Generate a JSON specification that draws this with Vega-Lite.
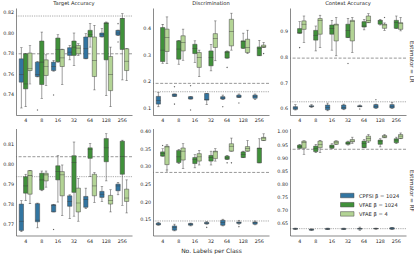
{
"$schema": "https://vega.github.io/schema/vega-lite/v6.json",
"padding": {"left": 2, "top": 1, "right": 0, "bottom": 0},
"background": "white",
"config": {
 "view": {"stroke": null},
 "font": "DejaVu Sans",
 "axis": {"grid": false, "ticks": false, "domainColor": "#3a3a3a", "domainWidth": 0.6, "labelFont": "DejaVu Sans", "labelFontSize": 4.8, "labelColor": "#262626", "labelPadding": 2.5, "labelOverlap": false, "labelBound": false, "labelFlush": false, "titleFont": "DejaVu Sans", "titleFontSize": 6, "titleFontWeight": "normal", "titleColor": "#262626"},
 "axisX": {"labelAngle": 0, "titlePadding": 4.5},
 "title": {"font": "DejaVu Sans", "fontSize": 5.2, "fontWeight": "normal", "color": "#262626", "offset": 1.5},
 "scale": {"bandPaddingInner": 0.15, "bandPaddingOuter": 0.075, "offsetBandPaddingInner": 0, "offsetBandPaddingOuter": 0},
 "rule": {"color": "#5a5a5a", "strokeWidth": 0.6},
 "tick": {"color": "#3c3c3c", "thickness": 0.6},
 "bar": {"stroke": "#444444", "strokeWidth": 0.5},
 "point": {"shape": "diamond", "filled": true, "size": 2.5, "color": "#555555", "opacity": 1},
 "legend": {"orient": "none", "legendX": 326.25, "legendY": 182.5, "symbolType": "M-1.5,-0.5H1.5V0.5H-1.5Z", "symbolSize": 81, "symbolStrokeColor": "#444444", "symbolStrokeWidth": 0.5, "labelFont": "DejaVu Sans", "labelFontSize": 5.2, "labelColor": "#262626", "labelOffset": 6.75, "rowPadding": 0.2, "padding": 0}
},
"datasets": {
 "bLRT": [
  {"n":4,"s":"CPFSI β = 1024","lo":0.7273,"q1":0.7524,"med":0.7598,"q3":0.7751,"hi":0.7859},
  {"n":4,"s":"VFAE β = 1024","lo":0.7286,"q1":0.7459,"med":0.7507,"q3":0.78,"hi":0.7805},
  {"n":4,"s":"VFAE β = 4","lo":0.7507,"q1":0.7637,"med":0.7654,"q3":0.7807,"hi":0.7881},
  {"n":8,"s":"CPFSI β = 1024","lo":0.7575,"q1":0.7579,"med":0.7598,"q3":0.7719,"hi":0.7725},
  {"n":8,"s":"VFAE β = 1024","lo":0.7367,"q1":0.7501,"med":0.7719,"q3":0.7924,"hi":0.8011},
  {"n":8,"s":"VFAE β = 4","lo":0.7491,"q1":0.7589,"med":0.7676,"q3":0.7741,"hi":0.779},
  {"n":16,"s":"CPFSI β = 1024","lo":0.7631,"q1":0.7637,"med":0.7676,"q3":0.7719,"hi":0.7735},
  {"n":16,"s":"VFAE β = 1024","lo":0.7719,"q1":0.7722,"med":0.7842,"q3":0.7953,"hi":0.7985},
  {"n":16,"s":"VFAE β = 4","lo":0.7501,"q1":0.7676,"med":0.776,"q3":0.7842,"hi":0.7845},
  {"n":32,"s":"CPFSI β = 1024","lo":0.7741,"q1":0.7784,"med":0.7816,"q3":0.7859,"hi":0.7881},
  {"n":32,"s":"VFAE β = 1024","lo":0.7686,"q1":0.7784,"med":0.7865,"q3":0.7924,"hi":0.8002},
  {"n":32,"s":"VFAE β = 4","lo":0.7784,"q1":0.78,"med":0.7855,"q3":0.7881,"hi":0.7898},
  {"n":64,"s":"CPFSI β = 1024","lo":0.7751,"q1":0.7753,"med":0.7849,"q3":0.7963,"hi":0.7995},
  {"n":64,"s":"VFAE β = 1024","lo":0.7865,"q1":0.7963,"med":0.7985,"q3":0.8028,"hi":0.8093},
  {"n":64,"s":"VFAE β = 4","lo":0.7449,"q1":0.7579,"med":0.7735,"q3":0.7963,"hi":0.8076},
  {"n":128,"s":"CPFSI β = 1024","lo":0.7963,"q1":0.7965,"med":0.7985,"q3":0.8002,"hi":0.8044},
  {"n":128,"s":"VFAE β = 1024","lo":0.7393,"q1":0.7741,"med":0.8093,"q3":0.8102,"hi":0.8109},
  {"n":128,"s":"VFAE β = 4","lo":0.7286,"q1":0.7442,"med":0.7598,"q3":0.7774,"hi":0.7865},
  {"n":256,"s":"CPFSI β = 1024","lo":0.7979,"q1":0.7981,"med":0.8002,"q3":0.8028,"hi":0.803},
  {"n":256,"s":"VFAE β = 1024","lo":0.7546,"q1":0.7842,"med":0.8141,"q3":0.8143,"hi":0.819},
  {"n":256,"s":"VFAE β = 4","lo":0.754,"q1":0.7637,"med":0.7728,"q3":0.7849,"hi":0.7851}
 ],
 "oLRT": [
  {"n":8,"s":"CPFSI β = 1024","v":0.7254},
  {"n":16,"s":"CPFSI β = 1024","v":0.74},
  {"n":256,"s":"CPFSI β = 1024","v":0.7914},
  {"n":256,"s":"CPFSI β = 1024","v":0.8093}
 ],
 "rLRT": [{"v":0.8167,"ls":"dotted"},{"v":0.78,"ls":"dashed"}],
 "bLRD": [
  {"n":4,"s":"CPFSI β = 1024","lo":0.106,"q1":0.116,"med":0.129,"q3":0.145,"hi":0.16},
  {"n":4,"s":"VFAE β = 1024","lo":0.269,"q1":0.276,"med":0.319,"q3":0.404,"hi":0.416},
  {"n":4,"s":"VFAE β = 4","lo":0.269,"q1":0.314,"med":0.366,"q3":0.398,"hi":0.444},
  {"n":8,"s":"CPFSI β = 1024","lo":0.145,"q1":0.145,"med":0.15,"q3":0.154,"hi":0.154},
  {"n":8,"s":"VFAE β = 1024","lo":0.266,"q1":0.285,"med":0.323,"q3":0.354,"hi":0.356},
  {"n":8,"s":"VFAE β = 4","lo":0.281,"q1":0.316,"med":0.348,"q3":0.373,"hi":0.398},
  {"n":16,"s":"CPFSI β = 1024","lo":0.135,"q1":0.135,"med":0.139,"q3":0.144,"hi":0.144},
  {"n":16,"s":"VFAE β = 1024","lo":0.273,"q1":0.306,"med":0.325,"q3":0.341,"hi":0.354},
  {"n":16,"s":"VFAE β = 4","lo":0.219,"q1":0.254,"med":0.291,"q3":0.31,"hi":0.319},
  {"n":32,"s":"CPFSI β = 1024","lo":0.114,"q1":0.131,"med":0.133,"q3":0.156,"hi":0.156},
  {"n":32,"s":"VFAE β = 1024","lo":0.241,"q1":0.26,"med":0.291,"q3":0.316,"hi":0.341},
  {"n":32,"s":"VFAE β = 4","lo":0.279,"q1":0.329,"med":0.363,"q3":0.381,"hi":0.429},
  {"n":64,"s":"CPFSI β = 1024","lo":0.133,"q1":0.135,"med":0.139,"q3":0.144,"hi":0.15},
  {"n":64,"s":"VFAE β = 1024","lo":0.289,"q1":0.289,"med":0.31,"q3":0.314,"hi":0.316},
  {"n":64,"s":"VFAE β = 4","lo":0.319,"q1":0.335,"med":0.389,"q3":0.435,"hi":0.458},
  {"n":128,"s":"CPFSI β = 1024","lo":0.141,"q1":0.141,"med":0.145,"q3":0.15,"hi":0.154},
  {"n":128,"s":"VFAE β = 1024","lo":0.326,"q1":0.326,"med":0.351,"q3":0.354,"hi":0.383},
  {"n":128,"s":"VFAE β = 4","lo":0.306,"q1":0.31,"med":0.329,"q3":0.36,"hi":0.394},
  {"n":256,"s":"CPFSI β = 1024","lo":0.133,"q1":0.138,"med":0.144,"q3":0.15,"hi":0.154},
  {"n":256,"s":"VFAE β = 1024","lo":0.298,"q1":0.298,"med":0.325,"q3":0.331,"hi":0.356},
  {"n":256,"s":"VFAE β = 4","lo":0.329,"q1":0.329,"med":0.333,"q3":0.338,"hi":0.348}
 ],
 "oLRD": [
  {"n":8,"s":"CPFSI β = 1024","v":0.181},
  {"n":8,"s":"CPFSI β = 1024","v":0.116},
  {"n":16,"s":"CPFSI β = 1024","v":0.185},
  {"n":16,"s":"CPFSI β = 1024","v":0.094},
  {"n":64,"s":"CPFSI β = 1024","v":0.106},
  {"n":128,"s":"CPFSI β = 1024","v":0.12},
  {"n":64,"s":"VFAE β = 1024","v":0.254},
  {"n":256,"s":"VFAE β = 4","v":0.306}
 ],
 "rLRD": [{"v":0.194,"ls":"dashed"},{"v":0.1625,"ls":"dotted"}],
 "bLRC": [
  {"n":4,"s":"CPFSI β = 1024","lo":0.596,"q1":0.5986,"med":0.6038,"q3":0.609,"hi":0.6167},
  {"n":4,"s":"VFAE β = 1024","lo":0.895,"q1":0.895,"med":0.896,"q3":0.913,"hi":0.94},
  {"n":4,"s":"VFAE β = 4","lo":0.859,"q1":0.91,"med":0.93,"q3":0.943,"hi":0.962},
  {"n":8,"s":"CPFSI β = 1024","lo":0.606,"q1":0.609,"med":0.61,"q3":0.6127,"hi":0.6167},
  {"n":8,"s":"VFAE β = 1024","lo":0.826,"q1":0.868,"med":0.887,"q3":0.906,"hi":0.923},
  {"n":8,"s":"VFAE β = 4","lo":0.839,"q1":0.891,"med":0.945,"q3":0.952,"hi":0.965},
  {"n":16,"s":"CPFSI β = 1024","lo":0.593,"q1":0.597,"med":0.606,"q3":0.6154,"hi":0.623},
  {"n":16,"s":"VFAE β = 1024","lo":0.829,"q1":0.891,"med":0.913,"q3":0.927,"hi":0.945},
  {"n":16,"s":"VFAE β = 4","lo":0.807,"q1":0.865,"med":0.927,"q3":0.93,"hi":0.956},
  {"n":32,"s":"CPFSI β = 1024","lo":0.597,"q1":0.6,"med":0.606,"q3":0.6154,"hi":0.619},
  {"n":32,"s":"VFAE β = 1024","lo":0.878,"q1":0.878,"med":0.906,"q3":0.93,"hi":0.953},
  {"n":32,"s":"VFAE β = 4","lo":0.82,"q1":0.865,"med":0.94,"q3":0.945,"hi":0.956},
  {"n":64,"s":"CPFSI β = 1024","lo":0.609,"q1":0.609,"med":0.61,"q3":0.6127,"hi":0.6154},
  {"n":64,"s":"VFAE β = 1024","lo":0.908,"q1":0.919,"med":0.923,"q3":0.94,"hi":0.949},
  {"n":64,"s":"VFAE β = 4","lo":0.936,"q1":0.936,"med":0.945,"q3":0.962,"hi":0.971},
  {"n":128,"s":"CPFSI β = 1024","lo":0.602,"q1":0.604,"med":0.609,"q3":0.617,"hi":0.619},
  {"n":128,"s":"VFAE β = 1024","lo":0.927,"q1":0.93,"med":0.943,"q3":0.945,"hi":0.949},
  {"n":128,"s":"VFAE β = 4","lo":0.906,"q1":0.914,"med":0.927,"q3":0.93,"hi":0.935},
  {"n":256,"s":"CPFSI β = 1024","lo":0.602,"q1":0.604,"med":0.609,"q3":0.617,"hi":0.626},
  {"n":256,"s":"VFAE β = 1024","lo":0.913,"q1":0.914,"med":0.936,"q3":0.945,"hi":0.962},
  {"n":256,"s":"VFAE β = 4","lo":0.904,"q1":0.91,"med":0.932,"q3":0.936,"hi":0.956}
 ],
 "oLRC": [
  {"n":4,"s":"VFAE β = 1024","v":0.839},
  {"n":32,"s":"VFAE β = 1024","v":0.777},
  {"n":64,"s":"CPFSI β = 1024","v":0.6},
  {"n":128,"s":"CPFSI β = 1024","v":0.636},
  {"n":128,"s":"VFAE β = 4","v":0.956}
 ],
 "rLRC": [{"v":0.798,"ls":"dashed"},{"v":0.628,"ls":"dotted"}],
 "bRFT": [
  {"n":4,"s":"CPFSI β = 1024","lo":0.7666,"q1":0.7672,"med":0.7718,"q3":0.7803,"hi":0.782},
  {"n":4,"s":"VFAE β = 1024","lo":0.782,"q1":0.7857,"med":0.7893,"q3":0.7939,"hi":0.7951},
  {"n":4,"s":"VFAE β = 4","lo":0.7805,"q1":0.7852,"med":0.7944,"q3":0.7969,"hi":0.7971},
  {"n":8,"s":"CPFSI β = 1024","lo":0.7685,"q1":0.7715,"med":0.7723,"q3":0.7805,"hi":0.7808},
  {"n":8,"s":"VFAE β = 1024","lo":0.7869,"q1":0.7874,"med":0.7923,"q3":0.7956,"hi":0.7967},
  {"n":8,"s":"VFAE β = 4","lo":0.7887,"q1":0.7918,"med":0.7948,"q3":0.7956,"hi":0.7967},
  {"n":16,"s":"CPFSI β = 1024","lo":0.7764,"q1":0.7764,"med":0.7797,"q3":0.78,"hi":0.7802},
  {"n":16,"s":"VFAE β = 1024","lo":0.7813,"q1":0.7923,"med":0.7964,"q3":0.7993,"hi":0.8043},
  {"n":16,"s":"VFAE β = 4","lo":0.7746,"q1":0.7844,"med":0.7948,"q3":0.7964,"hi":0.7997},
  {"n":32,"s":"CPFSI β = 1024","lo":0.7731,"q1":0.7792,"med":0.7816,"q3":0.7844,"hi":0.7849},
  {"n":32,"s":"VFAE β = 1024","lo":0.7743,"q1":0.7861,"med":0.801,"q3":0.8043,"hi":0.8111},
  {"n":32,"s":"VFAE β = 4","lo":0.7718,"q1":0.7764,"med":0.7808,"q3":0.7882,"hi":0.7931},
  {"n":64,"s":"CPFSI β = 1024","lo":0.778,"q1":0.7787,"med":0.7825,"q3":0.7841,"hi":0.7882},
  {"n":64,"s":"VFAE β = 1024","lo":0.7939,"q1":0.803,"med":0.8075,"q3":0.8082,"hi":0.8103},
  {"n":64,"s":"VFAE β = 4","lo":0.7811,"q1":0.7844,"med":0.7893,"q3":0.7951,"hi":0.7959},
  {"n":128,"s":"CPFSI β = 1024","lo":0.7816,"q1":0.7836,"med":0.7852,"q3":0.7866,"hi":0.789},
  {"n":128,"s":"VFAE β = 1024","lo":0.7918,"q1":0.8013,"med":0.8082,"q3":0.8128,"hi":0.8152},
  {"n":128,"s":"VFAE β = 4","lo":0.7764,"q1":0.7803,"med":0.782,"q3":0.7846,"hi":0.7874},
  {"n":256,"s":"CPFSI β = 1024","lo":0.7849,"q1":0.7869,"med":0.7893,"q3":0.7902,"hi":0.7911},
  {"n":256,"s":"VFAE β = 1024","lo":0.7797,"q1":0.7951,"med":0.8038,"q3":0.8115,"hi":0.812},
  {"n":256,"s":"VFAE β = 4","lo":0.7759,"q1":0.7816,"med":0.7833,"q3":0.7877,"hi":0.7923}
 ],
 "oRFT": [
  {"n":16,"s":"CPFSI β = 1024","v":0.7677}
 ],
 "rRFT": [{"v":0.8038,"ls":"dashed"},{"v":0.7939,"ls":"dotted"}],
 "bRFD": [
  {"n":4,"s":"CPFSI β = 1024","lo":0.135,"q1":0.136,"med":0.138,"q3":0.141,"hi":0.143},
  {"n":4,"s":"VFAE β = 1024","lo":0.33,"q1":0.33,"med":0.337,"q3":0.342,"hi":0.351},
  {"n":4,"s":"VFAE β = 4","lo":0.291,"q1":0.306,"med":0.356,"q3":0.358,"hi":0.362},
  {"n":8,"s":"CPFSI β = 1024","lo":0.119,"q1":0.121,"med":0.129,"q3":0.133,"hi":0.138},
  {"n":8,"s":"VFAE β = 1024","lo":0.309,"q1":0.312,"med":0.328,"q3":0.346,"hi":0.349},
  {"n":8,"s":"VFAE β = 4","lo":0.295,"q1":0.319,"med":0.344,"q3":0.353,"hi":0.365},
  {"n":16,"s":"CPFSI β = 1024","lo":0.133,"q1":0.135,"med":0.138,"q3":0.14,"hi":0.141},
  {"n":16,"s":"VFAE β = 1024","lo":0.297,"q1":0.309,"med":0.32,"q3":0.326,"hi":0.334},
  {"n":16,"s":"VFAE β = 4","lo":0.305,"q1":0.316,"med":0.328,"q3":0.337,"hi":0.346},
  {"n":32,"s":"CPFSI β = 1024","lo":0.138,"q1":0.139,"med":0.141,"q3":0.143,"hi":0.145},
  {"n":32,"s":"VFAE β = 1024","lo":0.305,"q1":0.316,"med":0.326,"q3":0.332,"hi":0.344},
  {"n":32,"s":"VFAE β = 4","lo":0.316,"q1":0.323,"med":0.342,"q3":0.344,"hi":0.351},
  {"n":64,"s":"CPFSI β = 1024","lo":0.133,"q1":0.135,"med":0.143,"q3":0.149,"hi":0.152},
  {"n":64,"s":"VFAE β = 1024","lo":0.321,"q1":0.321,"med":0.325,"q3":0.33,"hi":0.332},
  {"n":64,"s":"VFAE β = 4","lo":0.344,"q1":0.344,"med":0.358,"q3":0.365,"hi":0.381},
  {"n":128,"s":"CPFSI β = 1024","lo":0.138,"q1":0.14,"med":0.143,"q3":0.144,"hi":0.149},
  {"n":128,"s":"VFAE β = 1024","lo":0.326,"q1":0.326,"med":0.334,"q3":0.342,"hi":0.344},
  {"n":128,"s":"VFAE β = 4","lo":0.344,"q1":0.344,"med":0.351,"q3":0.357,"hi":0.374},
  {"n":256,"s":"CPFSI β = 1024","lo":0.136,"q1":0.138,"med":0.142,"q3":0.144,"hi":0.147},
  {"n":256,"s":"VFAE β = 1024","lo":0.311,"q1":0.311,"med":0.352,"q3":0.353,"hi":0.379},
  {"n":256,"s":"VFAE β = 4","lo":0.374,"q1":0.374,"med":0.381,"q3":0.383,"hi":0.393}
 ],
 "oRFD": [
  {"n":4,"s":"VFAE β = 1024","v":0.36},
  {"n":4,"s":"VFAE β = 4","v":0.288},
  {"n":32,"s":"CPFSI β = 1024","v":0.129},
  {"n":64,"s":"VFAE β = 1024","v":0.311},
  {"n":64,"s":"VFAE β = 4","v":0.311},
  {"n":128,"s":"CPFSI β = 1024","v":0.131}
 ],
 "rRFD": [{"v":0.284,"ls":"dashed"},{"v":0.147,"ls":"dotted"}],
 "bRFC": [
  {"n":4,"s":"CPFSI β = 1024","lo":0.629,"q1":0.63,"med":0.631,"q3":0.633,"hi":0.634},
  {"n":4,"s":"VFAE β = 1024","lo":0.938,"q1":0.938,"med":0.944,"q3":0.95,"hi":0.953},
  {"n":4,"s":"VFAE β = 4","lo":0.915,"q1":0.938,"med":0.959,"q3":0.965,"hi":0.966},
  {"n":8,"s":"CPFSI β = 1024","lo":0.625,"q1":0.626,"med":0.628,"q3":0.63,"hi":0.631},
  {"n":8,"s":"VFAE β = 1024","lo":0.921,"q1":0.925,"med":0.936,"q3":0.946,"hi":0.953},
  {"n":8,"s":"VFAE β = 4","lo":0.921,"q1":0.94,"med":0.953,"q3":0.965,"hi":0.968},
  {"n":16,"s":"CPFSI β = 1024","lo":0.628,"q1":0.629,"med":0.631,"q3":0.633,"hi":0.634},
  {"n":16,"s":"VFAE β = 1024","lo":0.938,"q1":0.938,"med":0.944,"q3":0.95,"hi":0.955},
  {"n":16,"s":"VFAE β = 4","lo":0.953,"q1":0.953,"med":0.961,"q3":0.965,"hi":0.966},
  {"n":32,"s":"CPFSI β = 1024","lo":0.628,"q1":0.629,"med":0.631,"q3":0.633,"hi":0.634},
  {"n":32,"s":"VFAE β = 1024","lo":0.95,"q1":0.953,"med":0.956,"q3":0.962,"hi":0.965},
  {"n":32,"s":"VFAE β = 4","lo":0.956,"q1":0.962,"med":0.965,"q3":0.971,"hi":0.98},
  {"n":64,"s":"CPFSI β = 1024","lo":0.626,"q1":0.63,"med":0.632,"q3":0.633,"hi":0.638},
  {"n":64,"s":"VFAE β = 1024","lo":0.94,"q1":0.94,"med":0.956,"q3":0.965,"hi":0.971},
  {"n":64,"s":"VFAE β = 4","lo":0.959,"q1":0.965,"med":0.975,"q3":0.984,"hi":0.99},
  {"n":128,"s":"CPFSI β = 1024","lo":0.63,"q1":0.631,"med":0.632,"q3":0.633,"hi":0.634},
  {"n":128,"s":"VFAE β = 1024","lo":0.943,"q1":0.953,"med":0.965,"q3":0.969,"hi":0.974},
  {"n":128,"s":"VFAE β = 4","lo":0.978,"q1":0.978,"med":0.984,"q3":0.986,"hi":0.99},
  {"n":256,"s":"CPFSI β = 1024","lo":0.629,"q1":0.63,"med":0.633,"q3":0.636,"hi":0.637},
  {"n":256,"s":"VFAE β = 1024","lo":0.956,"q1":0.959,"med":0.969,"q3":0.974,"hi":0.98},
  {"n":256,"s":"VFAE β = 4","lo":0.974,"q1":0.975,"med":0.984,"q3":0.99,"hi":0.996}
 ],
 "rRFC": [{"v":0.934,"ls":"dashed"},{"v":0.632,"ls":"dotted"}]
},
"spacing": 4.5,
"bounds": "full",
"vconcat": [
 {"hconcat": [
  {"width": 116, "height": 107, "title": "Target Accuracy", "data": {"name": "bLRT"},
   "layer": [
    {"data": {"name": "rLRT"}, "mark": {"type": "rule", "color": "#6b6b6b", "strokeWidth": 0.7},
     "encoding": {"y": {"field": "v", "type": "quantitative", "title": null, "scale": {"domain": [0.7205, 0.8245], "nice": false, "zero": false}, "axis": {"values": [0.74, 0.76, 0.78, 0.8, 0.82], "format": ".2f", "tickCount": 20}},
      "strokeDash": {"field": "ls", "type": "nominal", "legend": null, "scale": {"domain": ["dashed", "dotted"], "range": [[3, 1.6], [0.8, 1]]}}}},
    {"mark": "rule", "encoding": {"x": {"field": "n", "type": "ordinal", "title": null}, "xOffset": {"field": "s", "type": "nominal"}, "y": {"field": "lo", "type": "quantitative", "title": null}, "y2": {"field": "hi"}}},
    {"mark": "bar", "encoding": {"x": {"field": "n", "type": "ordinal", "title": null}, "xOffset": {"field": "s", "type": "nominal"}, "y": {"field": "q1", "type": "quantitative", "title": null}, "y2": {"field": "q3"}, "color": {"field": "s", "type": "nominal", "title": null, "scale": {"domain": ["CPFSI β = 1024", "VFAE β = 1024", "VFAE β = 4"], "range": ["#3275a1", "#40913a", "#b3d495"]}}}},
    {"mark": {"type": "tick", "size": 4.7}, "encoding": {"x": {"field": "n", "type": "ordinal", "title": null}, "xOffset": {"field": "s", "type": "nominal"}, "y": {"field": "med", "type": "quantitative", "title": null}}},
    {"mark": {"type": "tick", "size": 2.4}, "encoding": {"x": {"field": "n", "type": "ordinal", "title": null}, "xOffset": {"field": "s", "type": "nominal"}, "y": {"field": "lo", "type": "quantitative", "title": null}}},
    {"mark": {"type": "tick", "size": 2.4}, "encoding": {"x": {"field": "n", "type": "ordinal", "title": null}, "xOffset": {"field": "s", "type": "nominal"}, "y": {"field": "hi", "type": "quantitative", "title": null}}},
    {"data": {"name": "oLRT"}, "mark": "point", "encoding": {"x": {"field": "n", "type": "ordinal", "title": null}, "xOffset": {"field": "s", "type": "nominal"}, "y": {"field": "v", "type": "quantitative", "title": null}}}
   ]},
  {"width": 116, "height": 107, "title": "Discrimination", "data": {"name": "bLRD"},
   "layer": [
    {"data": {"name": "rLRD"}, "mark": {"type": "rule", "color": "#6b6b6b", "strokeWidth": 0.7},
     "encoding": {"y": {"field": "v", "type": "quantitative", "title": null, "scale": {"domain": [0.075, 0.4775], "nice": false, "zero": false}, "axis": {"values": [0.1, 0.2, 0.3, 0.4], "format": ".1f", "tickCount": 20}},
      "strokeDash": {"field": "ls", "type": "nominal", "legend": null, "scale": {"domain": ["dashed", "dotted"], "range": [[3, 1.6], [0.8, 1]]}}}},
    {"mark": "rule", "encoding": {"x": {"field": "n", "type": "ordinal", "title": null}, "xOffset": {"field": "s", "type": "nominal"}, "y": {"field": "lo", "type": "quantitative", "title": null}, "y2": {"field": "hi"}}},
    {"mark": "bar", "encoding": {"x": {"field": "n", "type": "ordinal", "title": null}, "xOffset": {"field": "s", "type": "nominal"}, "y": {"field": "q1", "type": "quantitative", "title": null}, "y2": {"field": "q3"}, "color": {"field": "s", "type": "nominal", "title": null, "scale": {"domain": ["CPFSI β = 1024", "VFAE β = 1024", "VFAE β = 4"], "range": ["#3275a1", "#40913a", "#b3d495"]}}}},
    {"mark": {"type": "tick", "size": 4.7}, "encoding": {"x": {"field": "n", "type": "ordinal", "title": null}, "xOffset": {"field": "s", "type": "nominal"}, "y": {"field": "med", "type": "quantitative", "title": null}}},
    {"mark": {"type": "tick", "size": 2.4}, "encoding": {"x": {"field": "n", "type": "ordinal", "title": null}, "xOffset": {"field": "s", "type": "nominal"}, "y": {"field": "lo", "type": "quantitative", "title": null}}},
    {"mark": {"type": "tick", "size": 2.4}, "encoding": {"x": {"field": "n", "type": "ordinal", "title": null}, "xOffset": {"field": "s", "type": "nominal"}, "y": {"field": "hi", "type": "quantitative", "title": null}}},
    {"data": {"name": "oLRD"}, "mark": "point", "encoding": {"x": {"field": "n", "type": "ordinal", "title": null}, "xOffset": {"field": "s", "type": "nominal"}, "y": {"field": "v", "type": "quantitative", "title": null}}}
   ]},
  {"width": 116, "height": 107, "title": "Context Accuracy", "data": {"name": "bLRC"},
   "layer": [
    {"data": {"name": "rLRC"}, "mark": {"type": "rule", "color": "#6b6b6b", "strokeWidth": 0.7},
     "encoding": {"y": {"field": "v", "type": "quantitative", "title": null, "scale": {"domain": [0.5766, 0.9931], "nice": false, "zero": false}, "axis": {"values": [0.6, 0.7, 0.8, 0.9], "format": ".1f", "tickCount": 20}},
      "strokeDash": {"field": "ls", "type": "nominal", "legend": null, "scale": {"domain": ["dashed", "dotted"], "range": [[3, 1.6], [0.8, 1]]}}}},
    {"mark": "rule", "encoding": {"x": {"field": "n", "type": "ordinal", "title": null}, "xOffset": {"field": "s", "type": "nominal"}, "y": {"field": "lo", "type": "quantitative", "title": null}, "y2": {"field": "hi"}}},
    {"mark": "bar", "encoding": {"x": {"field": "n", "type": "ordinal", "title": null}, "xOffset": {"field": "s", "type": "nominal"}, "y": {"field": "q1", "type": "quantitative", "title": null}, "y2": {"field": "q3"}, "color": {"field": "s", "type": "nominal", "title": null, "scale": {"domain": ["CPFSI β = 1024", "VFAE β = 1024", "VFAE β = 4"], "range": ["#3275a1", "#40913a", "#b3d495"]}}}},
    {"mark": {"type": "tick", "size": 4.7}, "encoding": {"x": {"field": "n", "type": "ordinal", "title": null}, "xOffset": {"field": "s", "type": "nominal"}, "y": {"field": "med", "type": "quantitative", "title": null}}},
    {"mark": {"type": "tick", "size": 2.4}, "encoding": {"x": {"field": "n", "type": "ordinal", "title": null}, "xOffset": {"field": "s", "type": "nominal"}, "y": {"field": "lo", "type": "quantitative", "title": null}}},
    {"mark": {"type": "tick", "size": 2.4}, "encoding": {"x": {"field": "n", "type": "ordinal", "title": null}, "xOffset": {"field": "s", "type": "nominal"}, "y": {"field": "hi", "type": "quantitative", "title": null}}},
    {"data": {"name": "oLRC"}, "mark": "point", "encoding": {"x": {"field": "n", "type": "ordinal", "title": null}, "xOffset": {"field": "s", "type": "nominal"}, "y": {"field": "v", "type": "quantitative", "title": null}}}
   ]}
 ],
 "spacing": 21, "bounds": "flush",
 "title": {"text": "Estimator = LR", "orient": "right", "anchor": "middle", "fontSize": 5.5, "offset": 2}},
 {"hconcat": [
  {"width": 116, "height": 107, "data": {"name": "bRFT"},
   "layer": [
    {"data": {"name": "rRFT"}, "mark": {"type": "rule", "color": "#6b6b6b", "strokeWidth": 0.7},
     "encoding": {"y": {"field": "v", "type": "quantitative", "title": null, "scale": {"domain": [0.7647, 0.8178], "nice": false, "zero": false}, "axis": {"values": [0.77, 0.78, 0.79, 0.8, 0.81], "format": ".2f", "tickCount": 20}},
      "strokeDash": {"field": "ls", "type": "nominal", "legend": null, "scale": {"domain": ["dashed", "dotted"], "range": [[3, 1.6], [0.8, 1]]}}}},
    {"mark": "rule", "encoding": {"x": {"field": "n", "type": "ordinal", "title": null}, "xOffset": {"field": "s", "type": "nominal"}, "y": {"field": "lo", "type": "quantitative", "title": null}, "y2": {"field": "hi"}}},
    {"mark": "bar", "encoding": {"x": {"field": "n", "type": "ordinal", "title": null}, "xOffset": {"field": "s", "type": "nominal"}, "y": {"field": "q1", "type": "quantitative", "title": null}, "y2": {"field": "q3"}, "color": {"field": "s", "type": "nominal", "title": null, "scale": {"domain": ["CPFSI β = 1024", "VFAE β = 1024", "VFAE β = 4"], "range": ["#3275a1", "#40913a", "#b3d495"]}}}},
    {"mark": {"type": "tick", "size": 4.7}, "encoding": {"x": {"field": "n", "type": "ordinal", "title": null}, "xOffset": {"field": "s", "type": "nominal"}, "y": {"field": "med", "type": "quantitative", "title": null}}},
    {"mark": {"type": "tick", "size": 2.4}, "encoding": {"x": {"field": "n", "type": "ordinal", "title": null}, "xOffset": {"field": "s", "type": "nominal"}, "y": {"field": "lo", "type": "quantitative", "title": null}}},
    {"mark": {"type": "tick", "size": 2.4}, "encoding": {"x": {"field": "n", "type": "ordinal", "title": null}, "xOffset": {"field": "s", "type": "nominal"}, "y": {"field": "hi", "type": "quantitative", "title": null}}},
    {"data": {"name": "oRFT"}, "mark": "point", "encoding": {"x": {"field": "n", "type": "ordinal", "title": null}, "xOffset": {"field": "s", "type": "nominal"}, "y": {"field": "v", "type": "quantitative", "title": null}}}
   ]},
  {"width": 116, "height": 107, "data": {"name": "bRFD"},
   "layer": [
    {"data": {"name": "rRFD"}, "mark": {"type": "rule", "color": "#6b6b6b", "strokeWidth": 0.7},
     "encoding": {"y": {"field": "v", "type": "quantitative", "title": null, "scale": {"domain": [0.106, 0.408], "nice": false, "zero": false}, "axis": {"values": [0.15, 0.2, 0.25, 0.3, 0.35, 0.4], "format": ".2f", "tickCount": 20}},
      "strokeDash": {"field": "ls", "type": "nominal", "legend": null, "scale": {"domain": ["dashed", "dotted"], "range": [[3, 1.6], [0.8, 1]]}}}},
    {"mark": "rule", "encoding": {"x": {"field": "n", "type": "ordinal", "title": "No. Labels per Class"}, "xOffset": {"field": "s", "type": "nominal"}, "y": {"field": "lo", "type": "quantitative", "title": null}, "y2": {"field": "hi"}}},
    {"mark": "bar", "encoding": {"x": {"field": "n", "type": "ordinal", "title": "No. Labels per Class"}, "xOffset": {"field": "s", "type": "nominal"}, "y": {"field": "q1", "type": "quantitative", "title": null}, "y2": {"field": "q3"}, "color": {"field": "s", "type": "nominal", "title": null, "scale": {"domain": ["CPFSI β = 1024", "VFAE β = 1024", "VFAE β = 4"], "range": ["#3275a1", "#40913a", "#b3d495"]}}}},
    {"mark": {"type": "tick", "size": 4.7}, "encoding": {"x": {"field": "n", "type": "ordinal", "title": "No. Labels per Class"}, "xOffset": {"field": "s", "type": "nominal"}, "y": {"field": "med", "type": "quantitative", "title": null}}},
    {"mark": {"type": "tick", "size": 2.4}, "encoding": {"x": {"field": "n", "type": "ordinal", "title": "No. Labels per Class"}, "xOffset": {"field": "s", "type": "nominal"}, "y": {"field": "lo", "type": "quantitative", "title": null}}},
    {"mark": {"type": "tick", "size": 2.4}, "encoding": {"x": {"field": "n", "type": "ordinal", "title": "No. Labels per Class"}, "xOffset": {"field": "s", "type": "nominal"}, "y": {"field": "hi", "type": "quantitative", "title": null}}},
    {"data": {"name": "oRFD"}, "mark": "point", "encoding": {"x": {"field": "n", "type": "ordinal", "title": "No. Labels per Class"}, "xOffset": {"field": "s", "type": "nominal"}, "y": {"field": "v", "type": "quantitative", "title": null}}}
   ]},
  {"width": 116, "height": 107, "data": {"name": "bRFC"},
   "layer": [
    {"data": {"name": "rRFC"}, "mark": {"type": "rule", "color": "#6b6b6b", "strokeWidth": 0.7},
     "encoding": {"y": {"field": "v", "type": "quantitative", "title": null, "scale": {"domain": [0.606, 1.013], "nice": false, "zero": false}, "axis": {"values": [0.65, 0.7, 0.75, 0.8, 0.85, 0.9, 0.95, 1.0], "format": ".2f", "tickCount": 20}},
      "strokeDash": {"field": "ls", "type": "nominal", "legend": null, "scale": {"domain": ["dashed", "dotted"], "range": [[3, 1.6], [0.8, 1]]}}}},
    {"mark": "rule", "encoding": {"x": {"field": "n", "type": "ordinal", "title": null}, "xOffset": {"field": "s", "type": "nominal"}, "y": {"field": "lo", "type": "quantitative", "title": null}, "y2": {"field": "hi"}}},
    {"mark": "bar", "encoding": {"x": {"field": "n", "type": "ordinal", "title": null}, "xOffset": {"field": "s", "type": "nominal"}, "y": {"field": "q1", "type": "quantitative", "title": null}, "y2": {"field": "q3"}, "color": {"field": "s", "type": "nominal", "title": null, "scale": {"domain": ["CPFSI β = 1024", "VFAE β = 1024", "VFAE β = 4"], "range": ["#3275a1", "#40913a", "#b3d495"]}}}},
    {"mark": {"type": "tick", "size": 4.7}, "encoding": {"x": {"field": "n", "type": "ordinal", "title": null}, "xOffset": {"field": "s", "type": "nominal"}, "y": {"field": "med", "type": "quantitative", "title": null}}},
    {"mark": {"type": "tick", "size": 2.4}, "encoding": {"x": {"field": "n", "type": "ordinal", "title": null}, "xOffset": {"field": "s", "type": "nominal"}, "y": {"field": "lo", "type": "quantitative", "title": null}}},
    {"mark": {"type": "tick", "size": 2.4}, "encoding": {"x": {"field": "n", "type": "ordinal", "title": null}, "xOffset": {"field": "s", "type": "nominal"}, "y": {"field": "hi", "type": "quantitative", "title": null}}}
   ]}
 ],
 "spacing": 21, "bounds": "flush",
 "title": {"text": "Estimator = RF", "orient": "right", "anchor": "middle", "fontSize": 5.5, "offset": 2}}
]
}
